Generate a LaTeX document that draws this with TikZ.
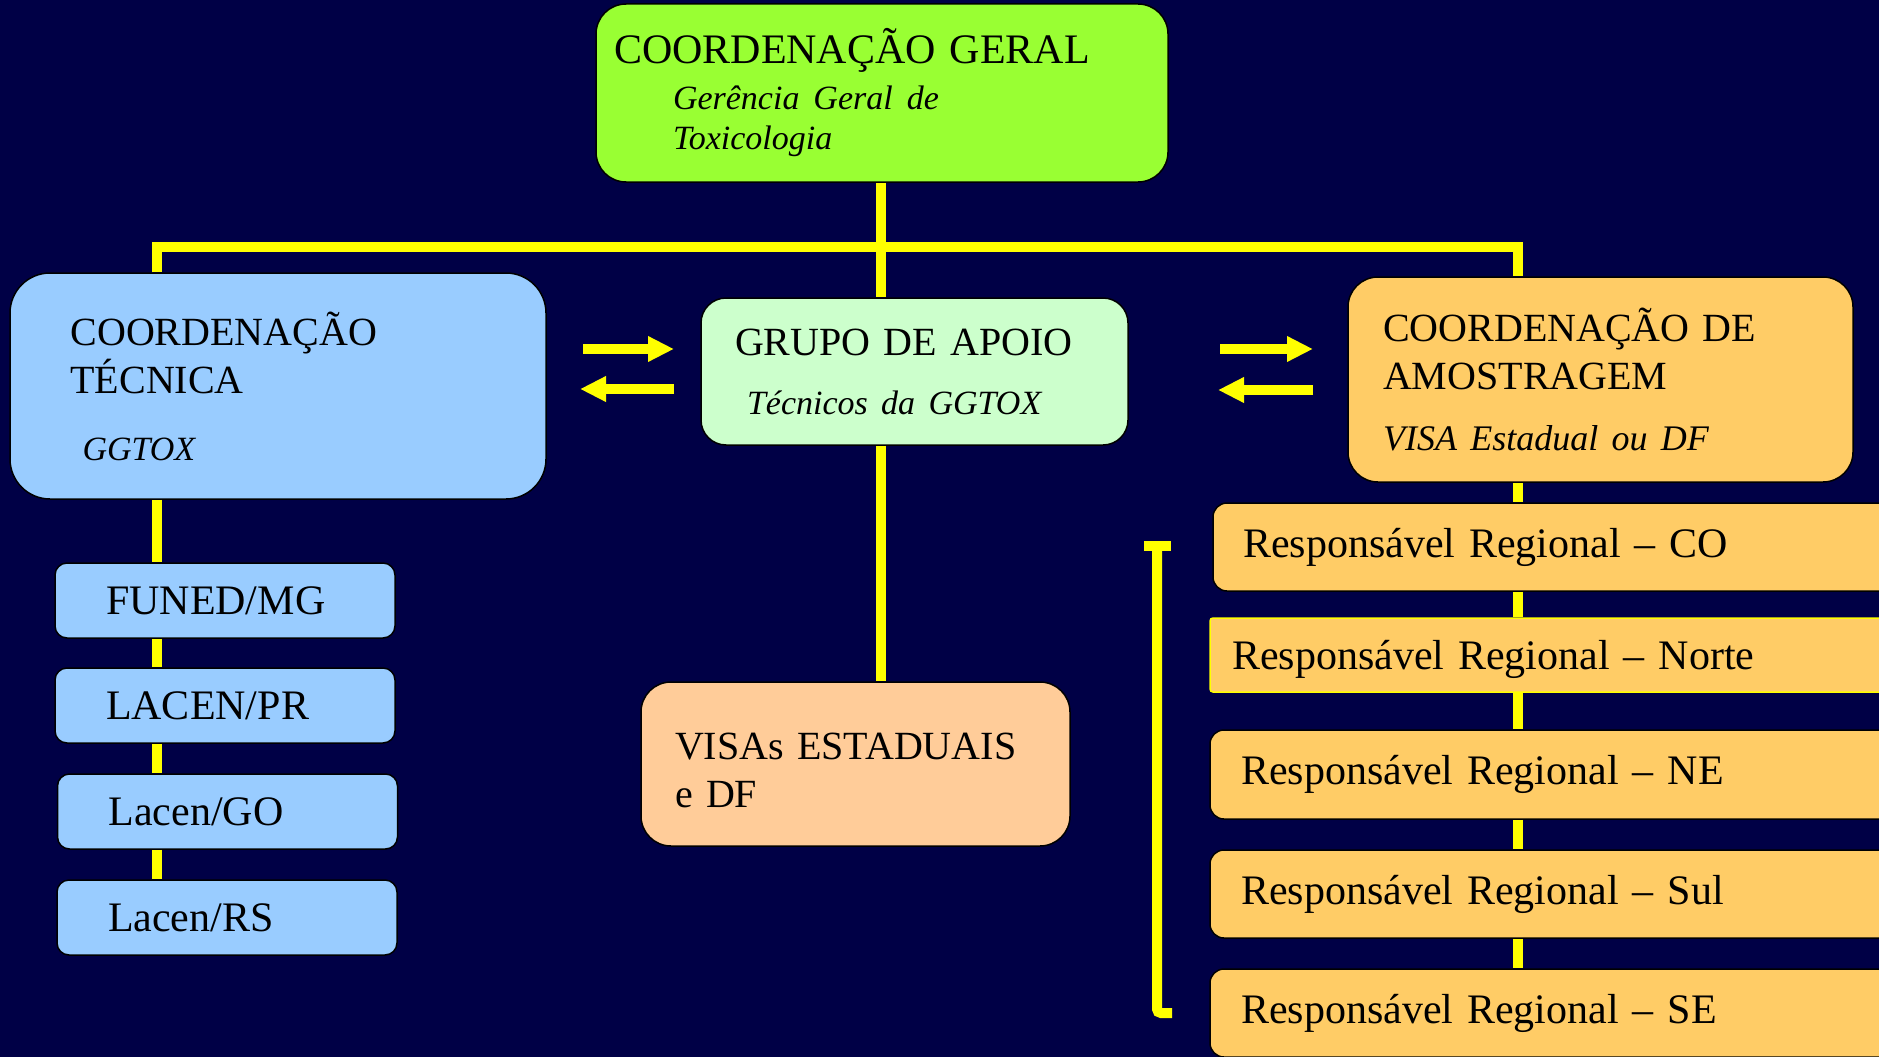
\documentclass[tikz,border=0pt]{standalone}
\usepackage{fontspec}
\setmainfont{Liberation Serif}
\usetikzlibrary{arrows.meta}
\definecolor{bgnavy}{RGB}{0,0,70}
\definecolor{geralgreen}{RGB}{153,255,51}
\definecolor{tecblue}{RGB}{153,204,255}
\definecolor{apoiomint}{RGB}{204,255,204}
\definecolor{amoorange}{RGB}{255,204,102}
\definecolor{visapeach}{RGB}{255,204,153}
\definecolor{linkyellow}{RGB}{255,255,0}
\newcommand{\subtxt}{\fontsize{34}{40}\selectfont\itshape}
\tikzset{
  orgbox/.style = {rectangle, draw=black, line width=1.5pt, inner sep=0pt, align=left, text=black},
  bigbox/.style = {orgbox, rounded corners=30pt, font=\fontsize{40}{48}\selectfont},
  labbox/.style = {orgbox, fill=tecblue, rounded corners=12pt, minimum width=340pt, minimum height=75pt, text width=238pt, font=\fontsize{42}{48}\selectfont},
  regbox/.style = {orgbox, fill=amoorange, rounded corners=14pt, minimum width=700pt, minimum height=88pt, text width=638pt, font=\fontsize{42}{48}\selectfont},
  link/.style = {draw=linkyellow, line width=10pt},
  flow/.style = {link, -{Triangle[width=24pt, length=26pt]}},
}
\begin{document}
\begin{tikzpicture}[x=1pt, y=-1pt]
\useasboundingbox (0,0) rectangle (1879,1057);
\fill[bgnavy] (0,0) rectangle (1879,1057);
\clip (0,0) rectangle (1879,1057);

% top level
\node[bigbox, fill=geralgreen, minimum width=572pt, minimum height=178pt, text width=536pt, font=\fontsize{42}{46}\selectfont] (geral) at (882,93)
  {COORDENAÇÃO GERAL\\ \hspace*{59pt}{\subtxt Gerência Geral de}\\[-6pt] \hspace*{59pt}{\subtxt Toxicologia}};

% second level
\node[bigbox, fill=tecblue, rounded corners=40pt, minimum width=536pt, minimum height=226pt, text width=415pt] (tec) at (278,386)
  {COORDENAÇÃO\\ TÉCNICA\\[19pt] \hspace*{12pt}{\subtxt GGTOX}};
\node[bigbox, fill=apoiomint, rounded corners=25pt, minimum width=427pt, minimum height=147pt, text width=359pt] (apoio) at (914.5,371.5)
  {GRUPO DE APOIO\\[11pt] \hspace*{12pt}{\subtxt Técnicos da GGTOX}};
\node[bigbox, fill=amoorange, minimum width=505pt, minimum height=205pt, text width=435pt] (amo) at (1600.5,379.5)
  {COORDENAÇÃO DE\\ AMOSTRAGEM\\[13pt] {\fontsize{36}{40}\selectfont\itshape VISA Estadual ou DF}};
\node[bigbox, fill=visapeach, minimum width=429pt, minimum height=164pt, text width=361pt] (visas) at (855.5,764)
  {\rule{0pt}{39pt}VISAs ESTADUAIS\\ e DF};

% laboratories
\node[labbox] (lab1) at (225,600.5) {FUNED/MG};
\node[labbox] (lab2) at (225,705.5) {LACEN/PR};
\node[labbox] (lab3) at (227.5,811.5) {Lacen/GO};
\node[labbox] (lab4) at (227,917.5) {Lacen/RS};

% regional leads
\node[regbox, text width=640pt] (reg1) at (1563,547) {Responsável Regional – CO};
\node[regbox, draw=linkyellow, rounded corners=3pt, minimum height=74pt, text width=656pt] (reg2) at (1560,655) {\rule{0pt}{39pt}Responsável Regional – Norte};
\node[regbox, minimum height=89pt] (reg3) at (1560,774.5) {Responsável Regional – NE};
\node[regbox] (reg4) at (1560,894) {Responsável Regional – Sul};
\node[regbox] (reg5) at (1560,1013) {Responsável Regional – SE};

% connectors
\coordinate (lcol) at (157,0);
\coordinate (ccol) at (881,0);
\coordinate (rcol) at (1518,0);
\coordinate (bus) at (0,247);
\draw[link] (ccol |- geral.south) -- (ccol |- apoio.north);
\draw[link] (lcol |- tec.north) -- (lcol |- bus) -- (rcol |- bus) -- (rcol |- amo.north);
\draw[link] (ccol |- apoio.south) -- (ccol |- visas.north);
\foreach \a/\b in {tec/lab1, lab1/lab2, lab2/lab3, lab3/lab4}
  \draw[link] (lcol |- \a.south) -- (lcol |- \b.north);
\foreach \a/\b in {amo/reg1, reg1/reg2, reg2/reg3, reg3/reg4, reg4/reg5}
  \draw[link] (rcol |- \a.south) -- (rcol |- \b.north);

% exchange arrows
\coordinate (ta1) at (583,349);
\coordinate (ta2) at (674,349);
\coordinate (tb1) at (674,389);
\coordinate (tb2) at (580,389);
\coordinate (aa1) at (1220,349);
\coordinate (aa2) at (1313,349);
\coordinate (ab1) at (1313,390);
\coordinate (ab2) at (1218,390);
\draw[flow] (ta1) -- (ta2);
\draw[flow] (tb1) -- (tb2);
\draw[flow] (aa1) -- (aa2);
\draw[flow] (ab1) -- (ab2);

% bracket beside the regions
\coordinate (brcapl) at (1144,546);
\coordinate (brcapr) at (1171,546);
\coordinate (brtop) at (1157,546);
\coordinate (brbot) at (1157,1013);
\coordinate (brend) at (1172,1013);
\draw[link] (brcapl) -- (brcapr);
\draw[link, rounded corners=4pt] (brtop) -- (brbot) -- (brend);
\end{tikzpicture}
\end{document}
